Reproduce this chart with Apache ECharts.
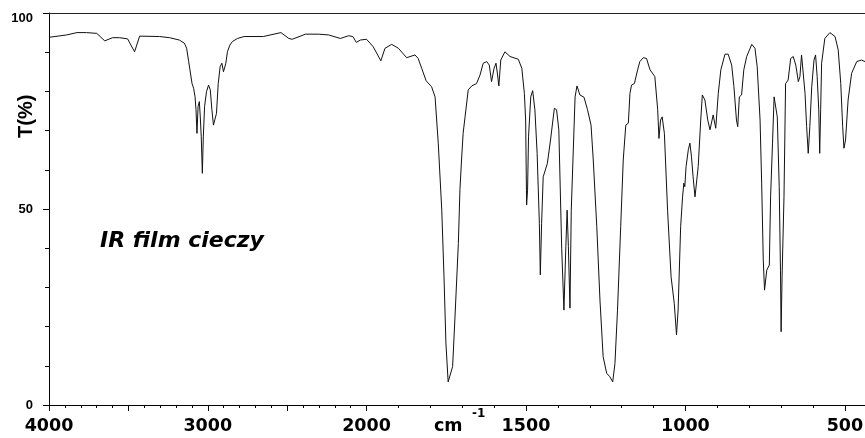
<!DOCTYPE html>
<html>
<head>
<meta charset="utf-8">
<script src="https://cdn.jsdelivr.net/npm/echarts@6/dist/echarts.min.js"></script>
<style>
  html, body { margin: 0; padding: 0; background: #ffffff; }
  #graph { width: 865px; height: 438px; }
</style>
</head>
<body>
<div id="graph"></div>
<script>
// widmo IR (cm-1, T%)
const wavenumber = [
  4000, 3889, 3824, 3764, 3699, 3649, 3599, 3555, 3505, 3461, 3429, 3304, 3240, 3179,
  3147, 3133, 3120, 3110, 3099, 3089, 3080, 3074, 3068, 3061, 3053, 3047, 3041, 3034,
  3028, 3020, 3008, 2995, 2984, 2974, 2964, 2955, 2945, 2934, 2922, 2911, 2901, 2892,
  2886, 2876, 2861, 2845, 2813, 2771, 2650, 2539, 2489, 2468, 2384, 2301, 2238, 2165,
  2113, 2086, 2064, 2039, 2000,
  1979, 1955, 1942, 1921, 1900, 1874, 1848, 1838, 1827, 1813, 1796, 1785, 1775, 1764,
  1757, 1751, 1744, 1738, 1730, 1723, 1712, 1707, 1702, 1697, 1691, 1681, 1670, 1655,
  1644, 1634, 1623, 1615, 1608, 1600, 1594, 1589, 1585, 1579, 1566, 1550, 1524, 1513,
  1505, 1501, 1498, 1495, 1492, 1485, 1479, 1472, 1465, 1458, 1455, 1451, 1446, 1433,
  1423, 1411, 1404, 1397, 1388, 1381, 1375, 1371, 1367, 1362, 1358, 1346, 1340, 1331,
  1318, 1307, 1296, 1289, 1278, 1268, 1258, 1247, 1237, 1228, 1221, 1213, 1203, 1195,
  1187, 1179, 1174, 1169, 1160, 1156, 1150, 1143, 1132, 1122, 1111, 1096, 1087, 1083,
  1078, 1073, 1066, 1056, 1045, 1035, 1028, 1023, 1015, 1009, 1005, 1002, 998, 991,
  986, 981, 976, 970, 965, 960, 952, 947, 939, 930, 923, 913, 905, 897,
  889, 876, 866, 855, 848, 840, 836, 831, 824, 817, 808, 792, 782, 775,
  766, 761, 756, 752, 745, 737, 733, 727, 722, 716, 712, 706, 702, 700,
  697, 691, 686, 678, 670, 662, 654, 646, 641, 636, 631, 625, 620, 615,
  610, 604, 597, 592, 587, 582, 579, 576, 573, 563, 547, 531, 521, 513,
  507, 503, 498, 490, 479, 463, 448, 437
];
const transmittance = [
  93.8, 94.4, 95.0, 95.0, 94.8, 92.9, 93.7, 93.7, 93.4, 90.1, 94.1, 94.0, 93.7, 93.1,
  92.3, 91.0, 87.6, 87.2, 82.0, 80.8, 78.6, 75.3, 69.3, 76.1, 77.4, 73.5, 68.4, 59.1,
  68.4, 76.1, 79.9, 81.6, 80.4, 75.3, 71.4, 71.0, 74.4, 82.0, 86.3, 87.2, 85.0, 84.6,
  87.2, 90.1, 91.8, 92.7, 93.5, 94.0, 94.0, 95.0, 93.5, 93.3, 94.6, 94.6, 94.4, 93.5,
  94.2, 94.0, 92.5, 93.1, 93.3,
  91.4, 87.8, 91.0, 92.0, 91.0, 88.6, 89.3, 88.4, 85.9, 82.7, 81.2, 78.6, 66.8, 49.7,
  32.7, 15.8, 5.9, 5.4, 9.8, 21.7, 41.2, 55.0, 62.5, 69.3, 73.5, 80.4, 81.4, 82.0,
  84.2, 87.2, 87.6, 86.7, 82.5, 85.9, 87.2, 84.2, 81.4, 88.0, 90.1, 88.9, 88.2, 85.9,
  79.5, 72.7, 51.0, 54.8, 68.4, 78.6, 80.2, 75.3, 64.2, 46.3, 33.2, 46.3, 58.2, 61.6,
  67.6, 75.7, 75.3, 70.2, 40.0, 24.2, 40.4, 49.7, 40.4, 24.7, 49.7, 78.6, 81.4, 79.1,
  78.5, 75.3, 71.4, 62.5, 45.5, 26.8, 12.3, 8.1, 7.2, 5.9, 10.6, 24.2, 45.5, 62.5,
  71.4, 71.9, 79.5, 81.6, 82.0, 81.6, 85.5, 87.6, 88.6, 88.4, 85.5, 83.8, 75.3, 68.0,
  72.7, 73.5, 69.3, 49.7, 32.7, 25.9, 17.9, 24.2, 45.5, 53.1, 56.6, 55.7, 60.8, 65.1,
  66.8, 63.3, 58.2, 53.1, 52.7, 60.8, 72.7, 79.1, 77.8, 72.7, 70.2, 74.0, 70.6, 79.5,
  85.5, 89.5, 89.5, 86.7, 81.2, 72.7, 71.0, 78.6, 79.1, 85.5, 88.9, 92.0, 91.0, 86.3,
  72.7, 56.6, 37.0, 29.3, 34.4, 35.7, 53.1, 66.8, 78.6, 78.2, 73.5, 55.7, 34.4, 18.7,
  32.7, 53.1, 82.0, 82.9, 88.4, 88.9, 86.7, 82.5, 83.8, 89.3, 88.9, 79.5, 71.0, 64.2,
  71.0, 81.2, 88.0, 89.3, 83.8, 75.3, 64.2, 75.3, 87.2, 93.5, 95.0, 94.0, 90.6, 82.0,
  71.0, 65.5, 67.6, 77.8, 84.6, 87.6, 88.0, 87.6
];

// skala osi x zmienia się przy 2000 cm-1
const leftLabels = [4000, 3000, 2000];
const leftMajorTicks = [4000, 3500, 3000, 2500, 2000];
const leftMinorTicks = [
  3900, 3800, 3700, 3600, 3400, 3300, 3200, 3100, 2900, 2800, 2700, 2600,
  2400, 2300, 2200, 2100
];
const rightLabels = [1500, 1000, 500];
const rightMinorTicks = [1900, 1800, 1700, 1600, 1400, 1300, 1200, 1100, 900, 800, 700, 600];
const rightEnd = 437;
const yLabels = [0, 50, 100];
const yMinorTicks = [10, 20, 30, 40, 60, 70, 80, 90];

const pairs = wavenumber.map((w, i) => [w, transmittance[i]]);
const highPart = pairs.filter(p => p[0] >= 2000);
const lowPart = pairs.filter(p => p[0] <= 2000);

const labelFont = {
  color: '#000',
  fontFamily: 'DejaVu Sans',
  fontWeight: 'bold',
  fontSize: 17.5,
};

// oś pomocnicza: tylko krótkie kreski
function minorAxis(gridIndex, min, max, values, len, extra) {
  return Object.assign({
    gridIndex: gridIndex,
    type: 'value',
    min: min,
    max: max,
    offset: 0,
    axisLine: { show: false },
    axisTick: { show: true, length: len, customValues: values, lineStyle: { color: '#000' } },
    axisLabel: { show: false },
    splitLine: { show: false },
  }, extra);
}

function topLine(gridIndex, min, max) {
  return {
    gridIndex: gridIndex,
    type: 'value',
    inverse: true,
    min: min,
    max: max,
    position: 'top',
    axisLine: { lineStyle: { color: '#222', width: 1 } },
    axisTick: { show: false },
    axisLabel: { show: false },
    splitLine: { show: false },
  };
}

const chartDom = document.getElementById('graph');
const myChart = echarts.init(chartDom, null, { renderer: 'canvas' });

const option = {
  animation: false,
  backgroundColor: '#ffffff',
  grid: [
    { left: 49, top: 13, width: 317.5, height: 392, outerBoundsMode: 'none', containLabel: false },
    { left: 366.5, top: 13, width: 498.5, height: 392, outerBoundsMode: 'none', containLabel: false },
  ],
  xAxis: [
    {
      gridIndex: 0,
      type: 'value',
      inverse: true,
      min: 2000,
      max: 4000,
      axisLine: { lineStyle: { color: '#000', width: 1 } },
      axisTick: { show: true, length: 6, customValues: leftMajorTicks, lineStyle: { color: '#000' } },
      splitLine: { show: false },
      axisLabel: { ...labelFont, margin: 12, customValues: leftLabels, formatter: v => String(v) },
    },
    {
      gridIndex: 1,
      type: 'value',
      inverse: true,
      min: rightEnd,
      max: 2000,
      axisLine: { lineStyle: { color: '#000', width: 1 } },
      axisTick: { show: true, length: 6, customValues: rightLabels, lineStyle: { color: '#000' } },
      splitLine: { show: false },
      axisLabel: { ...labelFont, margin: 12, customValues: rightLabels, formatter: v => String(v) },
    },
    minorAxis(0, 2000, 4000, leftMinorTicks, 3, { inverse: true, position: 'bottom' }),
    minorAxis(1, rightEnd, 2000, rightMinorTicks, 3, { inverse: true, position: 'bottom' }),
    topLine(0, 2000, 4000),
    topLine(1, rightEnd, 2000),
  ],
  yAxis: [
    {
      gridIndex: 0,
      type: 'value',
      min: 0,
      max: 100,
      axisLine: { show: true, lineStyle: { color: '#000', width: 1 } },
      axisTick: { show: true, length: 6, customValues: yLabels, lineStyle: { color: '#000' } },
      splitLine: { show: false },
      axisLabel: {
        customValues: yLabels,
        color: '#000',
        fontFamily: 'Liberation Sans',
        fontWeight: 'bold',
        fontSize: 13,
        margin: 16,
        formatter: v => (v === 100 ? '{top|100}' : String(v)),
        rich: {
          top: {
            color: '#000',
            fontFamily: 'Liberation Sans',
            fontWeight: 'bold',
            fontSize: 13,
            padding: [10, 0, 0, 0],
          },
        },
      },
    },
    {
      gridIndex: 1,
      type: 'value',
      min: 0,
      max: 100,
      show: false,
    },
    minorAxis(0, 0, 100, yMinorTicks, 4, { position: 'left' }),
  ],
  graphic: [
    {
      type: 'text',
      rotation: Math.PI / 2,
      x: 16,
      y: 138,
      style: {
        text: 'T(%)',
        fill: '#000',
        font: 'bold 20px "Liberation Sans"',
        verticalAlign: 'top',
      },
    },
    {
      type: 'text',
      x: 100,
      y: 241,
      style: {
        text: 'IR film cieczy',
        fill: '#000',
        font: 'italic bold 22px "DejaVu Sans"',
        verticalAlign: 'middle',
      },
    },
    {
      type: 'text',
      x: 434,
      y: 417,
      style: {
        text: 'cm',
        fill: '#000',
        font: 'bold 17.5px "DejaVu Sans"',
        verticalAlign: 'top',
      },
    },
    {
      type: 'text',
      x: 472,
      y: 408,
      style: {
        text: '-1',
        fill: '#000',
        font: 'bold 12px "DejaVu Sans"',
        verticalAlign: 'top',
      },
    },
  ],
  series: [
    {
      name: '4000-2000',
      type: 'line',
      xAxisIndex: 0,
      yAxisIndex: 0,
      data: highPart,
      showSymbol: false,
      lineStyle: { color: '#111', width: 1 },
    },
    {
      name: '2000-437',
      type: 'line',
      xAxisIndex: 1,
      yAxisIndex: 1,
      data: lowPart,
      showSymbol: false,
      lineStyle: { color: '#111', width: 1 },
    },
  ],
};

myChart.setOption(option);
</script>
</body>
</html>
